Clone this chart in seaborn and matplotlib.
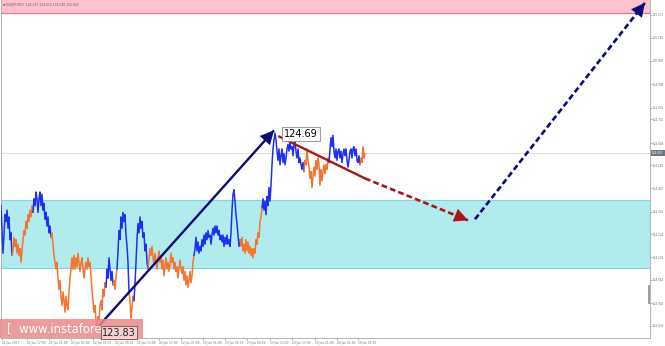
import numpy as np
import pandas as pd
import matplotlib
matplotlib.use("Agg")
import matplotlib.pyplot as plt
import seaborn as sns
from matplotlib.patches import Rectangle, FancyArrowPatch

sns.set_theme(style="white")
plt.rcParams['font.family'] = ['DejaVu Sans']

# ---------------- data ----------------
title_text = "\u25bc EURJPY,M15  124.597 124.612 124.588 124.603"

leg_dirs = ['up', 'down', 'up', 'down', 'up', 'down', 'up', 'down', 'up', 'down',
            'up', 'down', 'up', 'down', 'up', 'down']
leg_lengths = [12, 21, 18, 55, 7, 4, 12, 5, 14, 46, 46, 22, 42, 25, 31, 5]

price = [
    # leg 1 up
    124.37, 124.26, 124.16, 124.24, 124.33, 124.30, 124.35, 124.27, 124.32, 124.22, 124.25, 124.15,
    # leg 2 down
    124.17, 124.23, 124.19, 124.22, 124.16, 124.20, 124.15, 124.18, 124.12, 124.17, 124.22, 124.26,
    124.24, 124.30, 124.27, 124.33, 124.30, 124.35, 124.32, 124.37, 124.34,
    # leg 3 up
    124.40, 124.37, 124.43, 124.40, 124.34, 124.40, 124.43, 124.37, 124.42, 124.35, 124.38, 124.31,
    124.34, 124.28, 124.32, 124.25, 124.28, 124.23,
    # leg 4 down
    124.25, 124.20, 124.15, 124.12, 124.09, 124.12, 124.05, 124.00, 124.04, 123.97, 123.93, 123.99,
    123.95, 123.90, 123.97, 123.93, 123.91, 123.99, 124.05, 124.09, 124.14, 124.09, 124.15, 124.09,
    124.14, 124.10, 124.16, 124.12, 124.08, 124.12, 124.14, 124.09, 124.05, 124.09, 124.12, 124.09,
    124.14, 124.10, 124.12, 124.06, 124.00, 123.95, 123.90, 123.93, 123.86, 123.83, 123.88, 123.86,
    123.93, 123.95, 123.91, 124.00, 123.97, 124.03, 124.01,
    # leg 5 up
    124.09, 124.05, 124.14, 124.09, 124.04, 124.08, 124.02,
    # leg 6 down
    124.04, 124.00, 124.06, 124.09,
    # leg 7 up
    124.17, 124.26, 124.22, 124.32, 124.27, 124.34, 124.30, 124.33, 124.24, 124.19, 124.12, 123.99,
    # leg 8 down
    123.95, 123.87, 123.92, 123.97, 123.95,
    # leg 9 up
    124.03, 124.12, 124.22, 124.29, 124.25, 124.32, 124.27, 124.30, 124.23, 124.25, 124.17, 124.20,
    124.12, 124.09,
    # leg 10 down
    124.14, 124.18, 124.15, 124.19, 124.14, 124.11, 124.16, 124.12, 124.09, 124.14,
    124.17, 124.12, 124.15, 124.09, 124.13, 124.06, 124.10, 124.14, 124.09, 124.12,
    124.08, 124.11, 124.16, 124.12, 124.14, 124.09, 124.12, 124.08, 124.10, 124.05,
    124.09, 124.13, 124.09, 124.07, 124.10, 124.04, 124.08, 124.02, 124.06, 124.01,
    124.04, 124.08, 124.03, 124.06, 124.12, 124.15,
    # leg 11 up
    124.18, 124.23, 124.17, 124.21, 124.16, 124.19, 124.17, 124.22, 124.19, 124.24,
    124.20, 124.25, 124.22, 124.26, 124.23, 124.24, 124.20, 124.24, 124.27, 124.24,
    124.28, 124.25, 124.28, 124.24, 124.26, 124.22, 124.24, 124.21, 124.24, 124.19,
    124.23, 124.20, 124.24, 124.20, 124.22, 124.19, 124.25, 124.35, 124.42, 124.44,
    124.39, 124.33, 124.29, 124.24, 124.19, 124.22,
    # leg 12 down
    124.19, 124.23, 124.17, 124.20, 124.16, 124.22, 124.17, 124.21, 124.16, 124.19, 124.15,
    124.18, 124.14, 124.18, 124.16, 124.22, 124.20, 124.25, 124.23, 124.30, 124.32, 124.36,
    # leg 13 up
    124.40, 124.35, 124.39, 124.33, 124.41, 124.37, 124.45, 124.39, 124.46, 124.55, 124.62, 124.66,
    124.69,
    124.66, 124.61, 124.57, 124.62, 124.55, 124.59, 124.62, 124.56, 124.60, 124.55,
    124.58, 124.62, 124.64, 124.61, 124.65, 124.62, 124.63, 124.59, 124.64, 124.65,
    124.61, 124.58, 124.62, 124.56, 124.58, 124.55, 124.53, 124.56, 124.52,
    # leg 14 down
    124.57, 124.55, 124.62, 124.57, 124.54, 124.49, 124.52, 124.45, 124.50, 124.54,
    124.50, 124.57, 124.53, 124.58, 124.55, 124.46, 124.53, 124.48, 124.52, 124.55,
    124.51, 124.55, 124.53, 124.58, 124.56,
    # leg 15 up
    124.62, 124.67, 124.63, 124.68, 124.61, 124.58, 124.62, 124.57, 124.61, 124.62,
    124.58, 124.61, 124.56, 124.60, 124.62, 124.59, 124.62, 124.57, 124.54, 124.57,
    124.61, 124.62, 124.58, 124.62, 124.63, 124.59, 124.62, 124.57, 124.56, 124.59, 124.55,
    # leg 16 down
    124.58, 124.56, 124.63, 124.58, 124.60,
]

current_price = 124.60
target_zone = (125.22, 125.40)
support_zone = (124.095, 124.395)

corr_t = [278, 364, 467]          # forecast correction (red)
corr_p = [124.675, 124.49, 124.305]
impulse_t = [474, 644]            # forecast impulse (navy dashed)
impulse_p = [124.31, 125.265]

time_tick_pos = [1, 26, 48, 70, 92, 114, 136, 158, 180, 202, 224, 246, 269, 291, 314, 336, 357]
time_tick_labels = ['21 Jun 2017', '21 Jun 17:00', '21 Jun 21:00', '22 Jun 01:00', '22 Jun 05:00',
                    '22 Jun 09:00', '22 Jun 13:00', '22 Jun 17:00', '22 Jun 21:00', '23 Jun 01:00',
                    '23 Jun 05:00', '23 Jun 09:00', '23 Jun 13:00', '23 Jun 17:00', '23 Jun 21:00',
                    '26 Jun 01:00', '26 Jun 05:00']
price_ticks = [125.211, 125.110, 125.008, 124.906, 124.801, 124.752, 124.646, 124.549,
               124.447, 124.342, 124.244, 124.143, 124.042, 123.940, 123.839]

# ---------------- figure ----------------
W, H = 665, 346
fig = plt.figure(figsize=(W / 100, H / 100), dpi=100)
fig.patch.set_facecolor('white')
ax = fig.add_axes([1 / W, 8 / H, 649 / W, 338 / H])
ax.set_facecolor('white')
ax.set_xlim(0, 649)
ax.set_ylim(123.786, 125.277)

# zones
ax.axhspan(target_zone[0], target_zone[1], color='#ffc2cc', lw=0, zorder=0)
ax.axhline(target_zone[0], color='#e27a86', lw=0.9, zorder=1)
ax.axhspan(support_zone[0], support_zone[1], color='#b1ebee', lw=0, zorder=0)
ax.axhline(support_zone[0], color='#86d4e2', lw=0.8, zorder=1)
ax.axhline(support_zone[1], color='#86d4e2', lw=0.8, zorder=1)
ax.axhline(current_price, color='#d8d8d8', lw=0.6, zorder=1)

# price legs
t = np.arange(len(price))
colors = {'up': '#2030f0', 'down': '#f27530'}
start = 0
for d, n in zip(leg_dirs, leg_lengths):
    s = max(start - 1, 0)
    e = start + n
    df = pd.DataFrame({'t': t[s:e], 'p': price[s:e]})
    sns.lineplot(data=df, x='t', y='p', color=colors[d], lw=1.1, ax=ax,
                 estimator=None, sort=False, legend=False, zorder=3)
    start = e

# wave arrows
i_lo = int(np.argmin(price)); i_hi = int(np.argmax(price))
navy = '#0b0b78'
red = '#a81818'
x0, y0 = t[i_lo], price[i_lo]
x1, y1 = t[i_hi] - 1, price[i_hi] + 0.012
ax.plot([x0, x1], [y0, y1], color=navy, lw=1.7, zorder=5, solid_capstyle='butt')
def head(xa, ya, xb, yb, c):
    ax.add_patch(FancyArrowPatch((xa, ya), (xb, yb), arrowstyle='-|>,head_length=0.9,head_width=0.45',
                                 mutation_scale=11, color=c, lw=0, zorder=6, shrinkA=0, shrinkB=0))
fr = 0.05
head(x1 - (x1 - x0) * fr, y1 - (y1 - y0) * fr, x1, y1, navy)

ax.plot(corr_t[:2], corr_p[:2], color=red, lw=1.7, zorder=5)
ax.plot(corr_t[1:], corr_p[1:], color=red, lw=1.9, ls=(0, (2.2, 1.2)), zorder=5)
head(corr_t[2] - 10, corr_p[2] + (corr_p[1] - corr_p[2]) * 10 / (corr_t[2] - corr_t[1]),
     corr_t[2], corr_p[2], red)

ax.plot(impulse_t, impulse_p, color=navy, lw=1.9, ls=(0, (2.2, 1.2)), zorder=5)
head(impulse_t[1] - 8, impulse_p[1] - (impulse_p[1] - impulse_p[0]) * 8 / (impulse_t[1] - impulse_t[0]),
     impulse_t[1], impulse_p[1], navy)

# value labels
ax.text(t[i_hi] + 9, price[i_hi] - 0.003, f"{price[i_hi]:.2f}", fontsize=7.0, color='black',
        ha='left', va='center', zorder=8,
        bbox=dict(boxstyle='square,pad=0.2', fc='white', ec='#8a8a8a', lw=0.6))

# watermark (drawn inside the axes so the low label can sit on top of it)
ax.add_patch(Rectangle((0, 8 / H), 143 / W, 19 / H, transform=fig.transFigure, clip_on=False,
                       fc='#e98b8b', ec='none', alpha=0.85, zorder=7))
ax.text(7 / W, 17.5 / H, "[  www.instaforex.com", fontsize=8.4, color='white',
        ha='left', va='center', zorder=8, transform=fig.transFigure, clip_on=False)
ax.text(t[i_lo] + 5, price[i_lo] - 0.02, f"{price[i_lo]:.2f}", fontsize=7.0, color='#222222',
        ha='left', va='center', zorder=9,
        bbox=dict(boxstyle='square,pad=0.15', fc='#f4d0d0', ec='#7a4a4a', lw=0.6))

# title in pink band
fig.text(3 / W, (H - 5) / H, title_text, fontsize=2.2, color='#606060', ha='left', va='center')

# axes styling
ax.spines['top'].set_visible(False)
for sp in ['left', 'bottom', 'right']:
    ax.spines[sp].set_color('#a8a8a8')
    ax.spines[sp].set_linewidth(0.6)
ax.yaxis.tick_right()
ax.set_yticks(price_ticks)
ax.set_yticklabels([f"{v:.3f}" for v in price_ticks])
ax.tick_params(axis='y', labelsize=2.0, pad=0.8, length=1.5, width=0.4, colors='#707070',
               right=True, left=False)
ax.set_xticks(time_tick_pos)
ax.set_xticklabels(time_tick_labels, ha='left')
ax.tick_params(axis='x', labelsize=2.1, pad=0.8, length=1.5, width=0.4, colors='#707070', bottom=True)
ax.set_xlabel('')
ax.set_ylabel('')
ax.grid(False)

# current price tag on the axis
fig.patches.append(Rectangle((651 / W, (H - 156.5) / H), 14 / W, 6 / H, transform=fig.transFigure,
                             fc='#6f7684', ec='none', zorder=9))
fig.text(652 / W, (H - 153.5) / H, f"{current_price:.3f}", fontsize=2.0, color='white',
         ha='left', va='center', zorder=10)
# scrollbar mark
fig.patches.append(Rectangle((648 / W, (H - 304) / H), 2 / W, 19 / H, transform=fig.transFigure,
                             fc='#a0a0a0', ec='none', zorder=9))

fig.savefig('out.png', dpi=100)
